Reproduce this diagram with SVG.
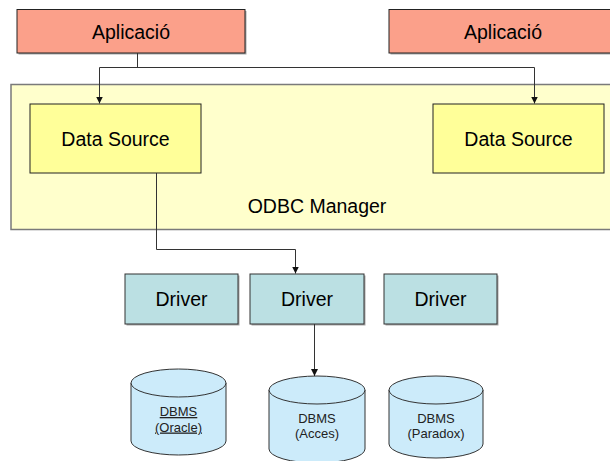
<svg xmlns="http://www.w3.org/2000/svg" width="610" height="461" viewBox="0 0 610 461">
<defs>
<style>
text{font-family:"Liberation Sans",Arial,sans-serif;fill:#000;text-anchor:middle}
.big{font-size:19.5px}
.small{font-size:13px;fill:#222}
.app{fill:#FBA08A;stroke:#222;stroke-width:1}
.ds{fill:#FFFF99;stroke:#222;stroke-width:1}
.mgr{fill:#FFFFCC;stroke:#7a7a7a;stroke-width:1.5}
.drv{fill:#BBE0E3;stroke:#333;stroke-width:1}
.cyl{fill:#CCEBFA;stroke:#333;stroke-width:1}
.sh{fill:#a8a8a8}
.con{fill:none;stroke:#333;stroke-width:1}
</style>
<marker id="arr" viewBox="0 0 8 8" refX="8" refY="4" markerWidth="7" markerHeight="7" markerUnits="userSpaceOnUse" orient="auto">
<path d="M0,0 L8,4 L0,8 Z" fill="#111"/>
</marker>
</defs>
<rect width="610" height="461" fill="#fff"/>
<g id="app1">
<rect class="sh" x="18.5" y="11" width="228" height="43.5"/>
<rect class="app" x="17" y="9.5" width="228" height="43.5"/>
<text class="big" x="131" y="38.5">Aplicació</text>
</g>
<g id="app2">
<rect class="sh" x="390.5" y="11" width="228" height="43.5"/>
<rect class="app" x="389" y="9.5" width="228" height="43.5"/>
<text class="big" x="503" y="38.5">Aplicació</text>
</g>
<g id="odbc">
<rect class="mgr" x="11" y="84.5" width="610" height="145"/>
<text class="big" x="317" y="213">ODBC Manager</text>
</g>
<g id="ds1">
<rect class="ds" x="30" y="104" width="171" height="69"/>
<text class="big" x="115.5" y="145.5">Data Source</text>
</g>
<g id="ds2">
<rect class="ds" x="433" y="104" width="171" height="69"/>
<text class="big" x="518.5" y="145.5">Data Source</text>
</g>
<g id="drv1">
<rect class="sh" x="126.5" y="275.5" width="113" height="50"/>
<rect class="drv" x="125" y="274" width="113" height="50"/>
<text class="big" x="181.5" y="306">Driver</text>
</g>
<g id="drv2">
<rect class="sh" x="251.5" y="275.5" width="114" height="50"/>
<rect class="drv" x="250" y="274" width="114" height="50"/>
<text class="big" x="307" y="306">Driver</text>
</g>
<g id="drv3">
<rect class="sh" x="385.5" y="275.5" width="113" height="50"/>
<rect class="drv" x="384" y="274" width="113" height="50"/>
<text class="big" x="440.5" y="306">Driver</text>
</g>
<g id="db1">
<path class="cyl" d="M131,383 A47.5,14 0 0 1 226,383 L226,441 A47.5,14 0 0 1 131,441 Z"/>
<path class="cyl" d="M131,383 A47.5,14 0 0 0 226,383" fill="none"/>
<text class="small" x="178.5" y="416" text-decoration="underline">DBMS</text>
<text class="small" x="178.5" y="431.5" text-decoration="underline">(Oracle)</text>
</g>
<g id="db2">
<path class="cyl" d="M269,390 A48,14 0 0 1 365,390 L365,449 A48,14 0 0 1 269,449 Z"/>
<path class="cyl" d="M269,390 A48,14 0 0 0 365,390" fill="none"/>
<text class="small" x="317" y="423">DBMS</text>
<text class="small" x="317" y="438">(Acces)</text>
</g>
<g id="db3">
<path class="cyl" d="M389,390 A47,14 0 0 1 483,390 L483,444 A47,14 0 0 1 389,444 Z"/>
<path class="cyl" d="M389,390 A47,14 0 0 0 483,390" fill="none"/>
<text class="small" x="436" y="423">DBMS</text>
<text class="small" x="436" y="438">(Paradox)</text>
</g>
<g id="connectors">
<path class="con" d="M137.5,53 V67.5 M99.5,67.5 H534.5" stroke="#555"/>
<path class="con" d="M99.5,67.5 V103.5" marker-end="url(#arr)"/>
<path class="con" d="M534.5,67.5 V103.5" marker-end="url(#arr)"/>
<path class="con" d="M156.5,173 V249.5 H295.5 V273.5" marker-end="url(#arr)"/>
<path class="con" d="M314.5,324 V376" marker-end="url(#arr)"/>
</g>
</svg>
